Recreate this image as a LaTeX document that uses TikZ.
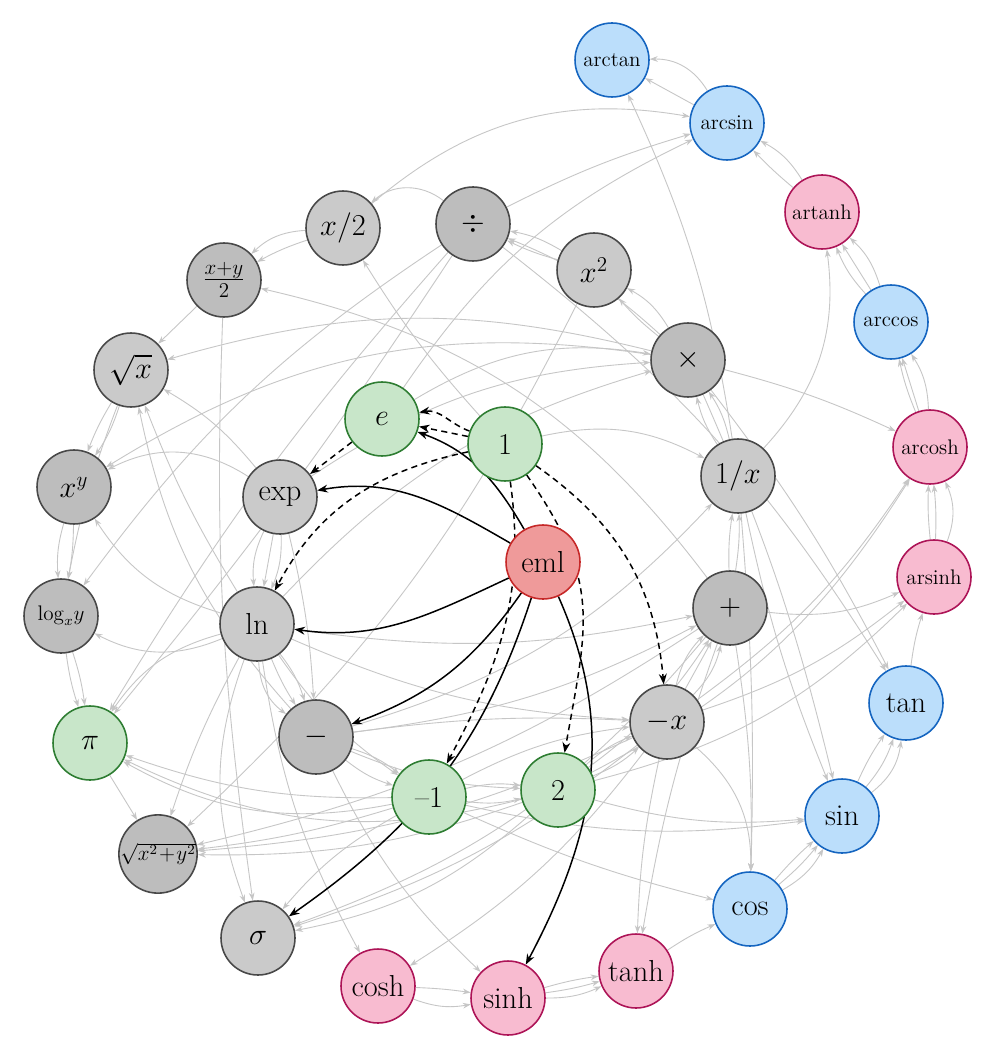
\documentclass[tikz,border=0pt]{standalone}
\usetikzlibrary{arrows.meta,backgrounds}
\definecolor{lightfill}{HTML}{CACACA}
\definecolor{darkfill}{HTML}{BDBDBD}
\definecolor{grayborder}{HTML}{484848}
\definecolor{greenfill}{HTML}{C8E6C9}
\definecolor{greenborder}{HTML}{2E7D32}
\definecolor{bluefill}{HTML}{BBDEFB}
\definecolor{blueborder}{HTML}{1565C0}
\definecolor{pinkfill}{HTML}{F8BBD0}
\definecolor{pinkborder}{HTML}{AD1457}
\definecolor{redfill}{HTML}{EF9A9A}
\definecolor{redborder}{HTML}{C62828}
\definecolor{edgecol}{HTML}{C6C6C6}
\tikzset{
  fnode/.style={circle, minimum size=1.48cm, inner sep=0pt, line width=0.9pt, text=black,
    font=\LARGE},
  smalltext/.style={font=\large},
  hyptext/.style={font=\large},
  nlight/.style={fnode, fill=lightfill, draw=grayborder},
  ndark/.style={fnode, fill=darkfill, draw=grayborder},
  ngreen/.style={fnode, fill=greenfill, draw=greenborder},
  nblue/.style={fnode, fill=bluefill, draw=blueborder},
  npink/.style={fnode, fill=pinkfill, draw=pinkborder},
  nred/.style={fnode, fill=redfill, draw=redborder},
  gedge/.style={draw=edgecol, line width=0.5pt, -{Stealth[length=4.5pt,width=3.2pt]}},
  bedge/.style={draw=black, line width=0.85pt, -{Stealth[length=6pt,width=4.5pt]}},
  dedge/.style={bedge, dash pattern=on 3.5pt off 2.5pt}
}
\begin{document}
\begin{tikzpicture}[x=0.02cm, y=-0.02cm]
\useasboundingbox (0,0) rectangle (996,1060);
% nodes
\node[nred] (eml) at (543,562) {eml};
\node[ngreen] (one) at (505,444) {1};
\node[ngreen] (e) at (382,419) {$e$};
\node[nlight] (exp) at (280,497) {exp};
\node[nlight] (ln) at (257,624) {ln};
\node[ndark] (minus) at (316,737) {$-$};
\node[ngreen] (m1) at (429,797) {--1};
\node[ngreen] (two) at (558,790) {2};
\node[nlight] (negx) at (667,722) {$-x$};
\node[ndark] (plus) at (730,608) {$+$};
\node[nlight] (inv) at (738,476) {$1/x$};
\node[ndark] (times) at (688,360) {$\times$};
\node[nlight] (sq) at (594,270) {$x^2$};
\node[ndark] (div) at (473,224) {$\div$};
\node[nlight] (half) at (343,228) {$x/2$};
\node[ndark] (avg) at (224,280) {$\frac{x+y}{2}$};
\node[nlight] (sqrt) at (131,370) {$\sqrt{x}$};
\node[ndark] (pow) at (74,487) {$x^y$};
\node[ndark, smalltext] (log) at (61,616) {$\log_x\! y$};
\node[ngreen] (pi) at (90,743) {$\pi$};
\node[ndark, hyptext] (hyp) at (158,854) {$\sqrt{x^2\!+\!y^2}$};
\node[nlight] (sig) at (258,938) {$\sigma$};
\node[npink] (cosh) at (378,986) {cosh};
\node[npink] (sinh) at (508,998) {sinh};
\node[npink] (tanh) at (636,971) {tanh};
\node[nblue] (cos) at (750,909) {cos};
\node[nblue] (sin) at (842,816) {sin};
\node[nblue] (tan) at (906,703) {tan};
\node[npink, smalltext] (arsinh) at (934,577) {arsinh};
\node[npink, smalltext] (arcosh) at (930,447) {arcosh};
\node[nblue, smalltext] (arccos) at (891,322) {arccos};
\node[npink, smalltext] (artanh) at (822,212) {artanh};
\node[nblue, smalltext] (arcsin) at (727,123) {arcsin};
\node[nblue, smalltext] (arctan) at (612,60) {arctan};
\begin{pgfonlayer}{background}
\fill[white] (0,0) rectangle (996,1060);
% gray edges
\draw[gedge] (one) to[bend left=20] (inv);
\draw[gedge] (one) to[bend left=5] (half);
\draw[gedge] (e) to[bend left=20] (times);
\draw[gedge] (e) to[bend left=15] (arcsin);
\draw[gedge] (exp) to[bend left=12] (ln);
\draw[gedge] (exp) -- (ln);
\draw[gedge] (exp) to[bend right=15] (ln);
\draw[gedge] (exp) to[bend left=5] (minus);
\draw[gedge] (exp) to[bend right=30] (pow);
\draw[gedge] (exp) to[bend right=10] (sqrt);
\draw[gedge] (exp) to[bend left=15] (times);
\draw[gedge] (ln) to[bend right=25] (minus);
\draw[gedge] (ln) to[bend right=5] (minus);
\draw[gedge] (ln) to[bend left=10] (minus);
\draw[gedge] (ln) to[bend right=10] (m1);
\draw[gedge] (ln) to[bend left=25] (log);
\draw[gedge] (ln) to[bend left=20] (pow);
\draw[gedge] (ln) to[bend left=5] (sqrt);
\draw[gedge] (ln) to[bend right=20] (pi);
\draw[gedge] (ln) to[bend right=5] (hyp);
\draw[gedge] (ln) to[bend right=20] (sig);
\draw[gedge] (ln) to[bend right=10] (cosh);
\draw[gedge] (ln) to[bend left=15] (times);
\draw[gedge] (ln) to[bend right=10] (negx);
\draw[gedge] (ln) to[bend right=10] (plus);
\draw[gedge] (minus) to[bend left=10] (m1);
\draw[gedge] (minus) to[bend right=10] (m1);
\draw[gedge] (minus) to[bend right=10] (two);
\draw[gedge] (minus) to[bend left=5] (negx);
\draw[gedge] (minus) to[bend right=10] (plus);
\draw[gedge] (minus) to[bend right=10] (sinh);
\draw[gedge] (minus) to[bend left=15] (sqrt);
\draw[gedge] (minus) to[bend right=15] (inv);
\draw[gedge] (m1) to[bend left=10] (two);
\draw[gedge] (m1) to[bend right=10] (two);
\draw[gedge] (m1) to[bend left=10] (negx);
\draw[gedge] (m1) to[bend left=20] (pi);
\draw[gedge] (m1) to[bend left=10] (pi);
\draw[gedge] (m1) to[bend left=5] (hyp);
\draw[gedge] (m1) to[bend right=10] (sig);
\draw[gedge] (m1) to[bend right=5] (cos);
\draw[gedge] (m1) to[bend right=10] (sin);
\draw[gedge] (two) to[bend right=10] (negx);
\draw[gedge] (two) to[bend left=10] (negx);
\draw[gedge] (two) to[bend right=10] (plus);
\draw[gedge] (two) to[bend left=20] (pi);
\draw[gedge] (two) to[bend left=10] (hyp);
\draw[gedge] (two) to[bend left=15] (sig);
\draw[gedge] (two) to[bend right=10] (sin);
\draw[gedge] (two) to[bend right=15] (arsinh);
\draw[gedge] (two) to[bend right=15] (arcosh);
\draw[gedge] (negx) to[bend left=15] (plus);
\draw[gedge] (negx) -- (plus);
\draw[gedge] (negx) to[bend right=15] (plus);
\draw[gedge] (negx) to[bend left=25] (cos);
\draw[gedge] (negx) to[bend right=5] (tanh);
\draw[gedge] (negx) to[bend left=10] (cosh);
\draw[gedge] (negx) to[bend left=10] (sig);
\draw[gedge] (negx) to[bend right=10] (arsinh);
\draw[gedge] (negx) to[bend right=10] (arcosh);
\draw[gedge] (negx) to[bend left=10] (hyp);
\draw[gedge] (plus) to[bend left=5] (inv);
\draw[gedge] (plus) to[bend right=5] (inv);
\draw[gedge] (plus) to[bend right=20] (avg);
\draw[gedge] (plus) to[bend right=15] (arsinh);
\draw[gedge] (plus) to[bend left=5] (cos);
\draw[gedge] (plus) to[bend right=5] (tanh);
\draw[gedge] (plus) to[bend left=10] (hyp);
\draw[gedge] (plus) to[bend left=15] (sig);
\draw[gedge] (inv) to[bend right=10] (times);
\draw[gedge] (inv) to[bend left=10] (times);
\draw[gedge] (inv) to[bend right=8] (arctan);
\draw[gedge] (inv) to[bend right=25] (artanh);
\draw[gedge] (inv) to[bend right=5] (sin);
\draw[gedge] (inv) to[bend left=3] (cos);
\draw[gedge] (times) to[bend right=15] (sq);
\draw[gedge] (times) to[bend left=5] (sq);
\draw[gedge] (times) to[bend right=10] (div);
\draw[gedge] (times) to[bend right=20] (pow);
\draw[gedge] (times) to[bend left=5] (arcosh);
\draw[gedge] (times) to[bend left=5] (tan);
\draw[gedge] (times) to[bend right=15] (sqrt);
\draw[gedge] (times) to[bend left=5] (sin);
\draw[gedge] (sq) to[bend right=10] (div);
\draw[gedge] (sq) to[bend left=5] (div);
\draw[gedge] (sq) to[bend left=10] (hyp);
\draw[gedge] (div) to[bend right=40] (half);
\draw[gedge] (div) to[bend left=5] (arcsin);
\draw[gedge] (div) to[bend right=10] (log);
\draw[gedge] (div) to[bend right=5] (pi);
\draw[gedge] (div) to[bend left=3] (pi);
\draw[gedge] (div) to[bend left=10] (tan);
\draw[gedge] (half) to[bend right=20] (avg);
\draw[gedge] (half) to[bend right=5] (avg);
\draw[gedge] (half) to[bend left=25] (arcsin);
\draw[gedge] (avg) -- (sqrt);
\draw[gedge] (avg) to[bend right=5] (sig);
\draw[gedge] (sqrt) to[bend left=8] (pow);
\draw[gedge] (sqrt) to[bend right=5] (pow);
\draw[gedge] (sqrt) to[bend right=5] (log);
\draw[gedge] (pow) to[bend right=10] (log);
\draw[gedge] (pow) to[bend left=5] (log);
\draw[gedge] (log) to[bend left=5] (pi);
\draw[gedge] (log) to[bend right=5] (pi);
\draw[gedge] (pi) -- (hyp);
\draw[gedge] (cosh) to[bend right=15] (sinh);
\draw[gedge] (cosh) to[bend left=3] (sinh);
\draw[gedge] (sinh) to[bend right=12] (tanh);
\draw[gedge] (sinh) to[bend right=4] (tanh);
\draw[gedge] (sinh) to[bend left=4] (tanh);
\draw[gedge] (tanh) to[bend left=5] (cos);
\draw[gedge] (cos) to[bend right=15] (sin);
\draw[gedge] (cos) to[bend right=5] (sin);
\draw[gedge] (cos) to[bend left=4] (sin);
\draw[gedge] (sin) to[bend right=10] (tan);
\draw[gedge] (sin) to[bend right=22] (tan);
\draw[gedge] (sin) to[bend left=5] (tan);
\draw[gedge] (tan) to[bend left=5] (arsinh);
\draw[gedge] (arsinh) to[bend left=4] (arcosh);
\draw[gedge] (arsinh) to[bend right=4] (arcosh);
\draw[gedge] (arsinh) to[bend right=22] (arcosh);
\draw[gedge] (arcosh) to[bend left=5] (arccos);
\draw[gedge] (arcosh) -- (arccos);
\draw[gedge] (arcosh) to[bend right=15] (arccos);
\draw[gedge] (arccos) to[bend left=10] (artanh);
\draw[gedge] (arccos) -- (artanh);
\draw[gedge] (arccos) to[bend right=15] (artanh);
\draw[gedge] (artanh) to[bend right=15] (arcsin);
\draw[gedge] (artanh) to[bend left=3] (arcsin);
\draw[gedge] (arcsin) to[bend right=30] (arctan);
\draw[gedge] (arcsin) -- (arctan);
% black edges
\draw[bedge] (eml) to[out=120,in=-20] (e);
\draw[bedge] (eml) to[out=150,in=10] (exp);
\draw[bedge] (eml) to[out=205,in=-8] (ln);
\draw[bedge] (eml) to[out=235,in=20] (minus);
\draw[bedge] (eml) to[out=252,in=35] (sig);
\draw[bedge] (eml) to[out=-66,in=62] (sinh);
% dashed edges
\draw[dedge] (one) to[out=160,in=10] (e);
\draw[dedge] (one) -- (e);
\draw[dedge] (e) -- (exp);
\draw[dedge] (one) to[out=192,in=62] (ln);
\draw[dedge] (one) to[out=-82,in=62] (m1);
\draw[dedge] (one) to[out=-55,in=80,looseness=1.2] (two);
\draw[dedge] (one) to[out=-35,in=95] (negx);
\end{pgfonlayer}
\end{tikzpicture}
\end{document}
